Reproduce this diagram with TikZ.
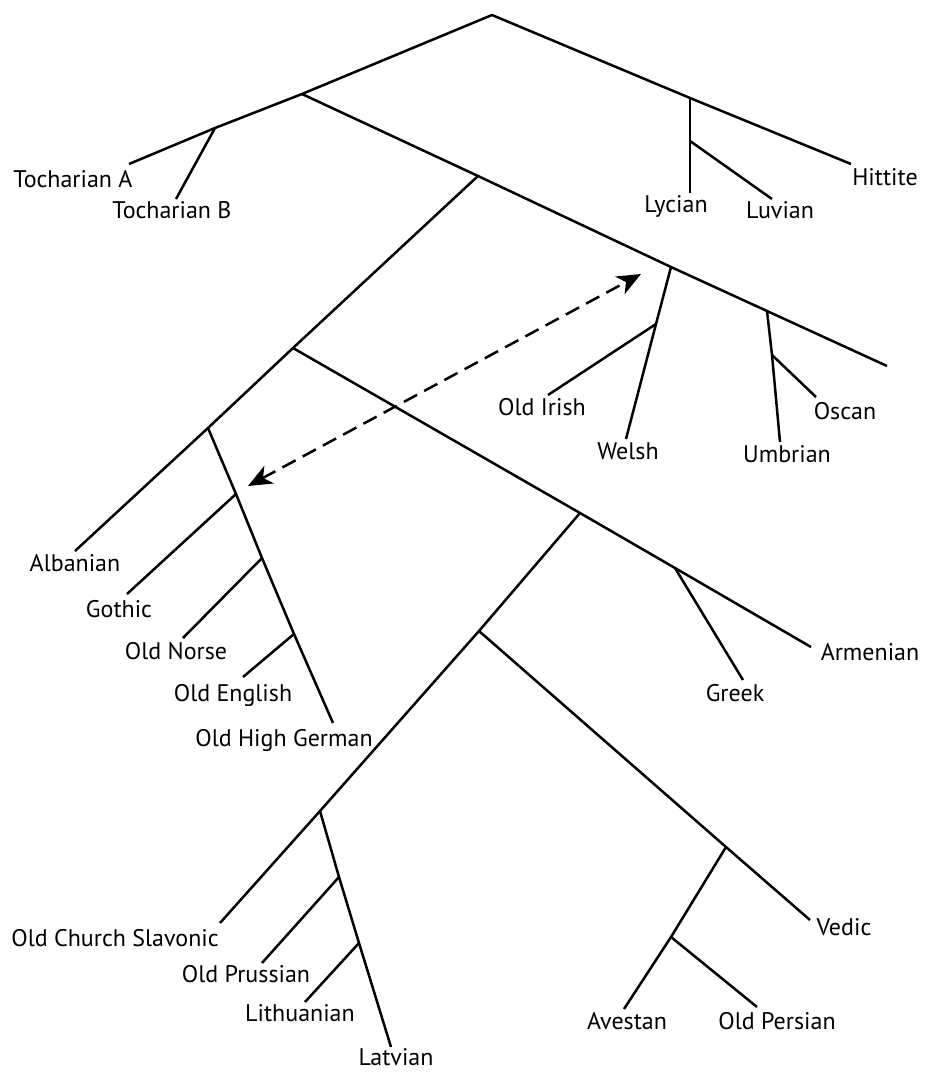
\documentclass[tikz,border=0pt]{standalone}
\usepackage{fontspec}
\setmainfont{PT Sans}
\usetikzlibrary{arrows.meta}
\begin{document}
\begin{tikzpicture}[x=1pt,y=-1pt,
  br/.style={line width=2.5pt, line cap=butt},
  lbl/.style={font=\fontsize{24}{27}\selectfont, inner sep=0pt, anchor=base},
  link/.style={line width=2.5pt, dash pattern=on 15pt off 8pt,
    {Stealth[length=24pt,width=20pt,inset=7pt]}-{Stealth[length=24pt,width=20pt,inset=7pt]}}]
\useasboundingbox (0,0) rectangle (928,1072);
% junctions
\coordinate (root) at (492,15);
\coordinate (ie) at (302,94);
\coordinate (toch) at (215,128);
\coordinate (anat) at (690,98);
\coordinate (luv) at (690,141);
\coordinate (core) at (478,176);
\coordinate (celt) at (671,267);
\coordinate (oir) at (656,324);
\coordinate (ital) at (767,311);
\coordinate (osc) at (772,355);
\coordinate (gra) at (293,348);
\coordinate (germ) at (208,428);
\coordinate (goth) at (236,494);
\coordinate (onor) at (262,558);
\coordinate (oeng) at (294,634);
\coordinate (bsii) at (580,513);
\coordinate (grk) at (675,568);
\coordinate (bsii2) at (479,631);
\coordinate (bs) at (320,811);
\coordinate (opr) at (339,877);
\coordinate (lith) at (359,943);
\coordinate (iir) at (726,847);
\coordinate (ope) at (671,937);
% leaf ends
\coordinate (eTA) at (129,164);
\coordinate (eTB) at (176,199);
\coordinate (eHit) at (851,164);
\coordinate (eLyc) at (690,193);
\coordinate (eLuv) at (772,199);
\coordinate (eItE) at (887,366);
\coordinate (eWel) at (626,439);
\coordinate (eOIr) at (548,395);
\coordinate (eUmb) at (780,442);
\coordinate (eOsc) at (816,397);
\coordinate (eAlb) at (75,551);
\coordinate (eOHG) at (333,723);
\coordinate (eGot) at (127,594);
\coordinate (eONo) at (183,638);
\coordinate (eOEn) at (243,677);
\coordinate (eArm) at (811,647);
\coordinate (eGrk) at (743,680);
\coordinate (eOCS) at (220,923);
\coordinate (eLat) at (391,1047);
\coordinate (eOPr) at (262,963);
\coordinate (eLit) at (305,1002);
\coordinate (eVed) at (810,920);
\coordinate (eAve) at (624,1009);
\coordinate (eOPe) at (757,1007);
\coordinate (aL) at (248,486);
\coordinate (aR) at (641,274);
% labels
\node[lbl] (lTA) at (73,187) {Tocharian A};
\node[lbl] (lTB) at (172,218) {Tocharian B};
\node[lbl] (lLyc) at (676,212) {Lycian};
\node[lbl] (lLuv) at (780,218) {Luvian};
\node[lbl] (lHit) at (885,185) {Hittite};
\node[lbl] (lOIr) at (542,415) {Old Irish};
\node[lbl] (lWel) at (628,459) {Welsh};
\node[lbl] (lOsc) at (845,419) {Oscan};
\node[lbl] (lUmb) at (787,462) {Umbrian};
\node[lbl] (lAlb) at (75,571) {Albanian};
\node[lbl] (lGot) at (119,617) {Gothic};
\node[lbl] (lONo) at (176,659) {Old Norse};
\node[lbl] (lOEn) at (233,701) {Old English};
\node[lbl] (lOHG) at (284,746) {Old High German};
\node[lbl] (lArm) at (870,660) {Armenian};
\node[lbl] (lGrk) at (735,701) {Greek};
\node[lbl] (lOCS) at (115,946) {Old Church Slavonic};
\node[lbl] (lOPr) at (246,982) {Old Prussian};
\node[lbl] (lLit) at (300,1021) {Lithuanian};
\node[lbl] (lLat) at (396,1065) {Latvian};
\node[lbl] (lVed) at (844,935) {Vedic};
\node[lbl] (lAve) at (627,1029) {Avestan};
\node[lbl] (lOPe) at (777,1029) {Old Persian};
% branches
\draw[br] (eTA) -- (toch) -- (ie) -- (root) -- (anat) -- (eHit);
\draw[br] (toch) -- (eTB);
\draw[br] (anat) -- (luv) -- (eLyc);
\draw[br] (luv) -- (eLuv);
\draw[br] (ie) -- (core) -- (celt) -- (ital) -- (eItE);
\draw[br] (celt) -- (oir) -- (eWel);
\draw[br] (oir) -- (eOIr);
\draw[br] (ital) -- (osc) -- (eUmb);
\draw[br] (osc) -- (eOsc);
\draw[br] (core) -- (gra) -- (germ) -- (eAlb);
\draw[br] (germ) -- (goth) -- (onor) -- (oeng) -- (eOHG);
\draw[br] (goth) -- (eGot);
\draw[br] (onor) -- (eONo);
\draw[br] (oeng) -- (eOEn);
\draw[br] (gra) -- (bsii) -- (grk) -- (eArm);
\draw[br] (grk) -- (eGrk);
\draw[br] (bsii) -- (bsii2) -- (bs) -- (eOCS);
\draw[br] (bs) -- (opr) -- (lith) -- (eLat);
\draw[br] (opr) -- (eOPr);
\draw[br] (lith) -- (eLit);
\draw[br] (bsii2) -- (iir) -- (eVed);
\draw[br] (iir) -- (ope) -- (eAve);
\draw[br] (ope) -- (eOPe);
\draw[link] (aL) -- (aR);
\end{tikzpicture}
\end{document}
